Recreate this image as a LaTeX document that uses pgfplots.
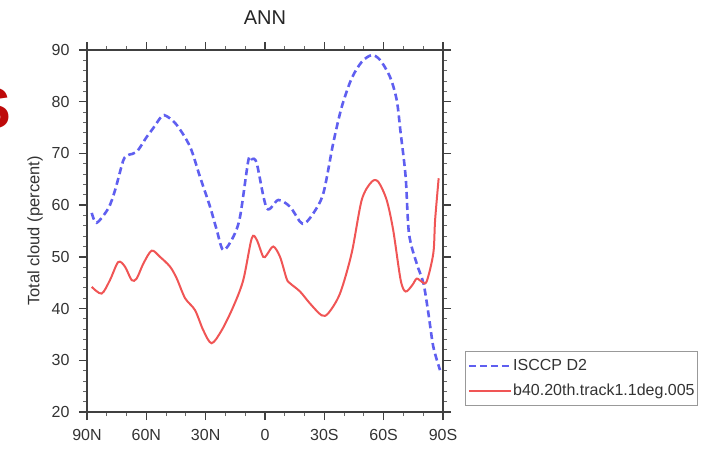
\documentclass[border=0pt]{standalone}
\usepackage{pgfplots}
\pgfplotsset{compat=1.18}
\usepackage{fontspec}
\setmainfont{Liberation Sans}
\definecolor{isccp}{RGB}{95,95,240}
\definecolor{model}{RGB}{240,85,85}
\definecolor{slidered}{RGB}{190,10,10}
\begin{document}
\begin{tikzpicture}[x=1pt,y=1pt]
\useasboundingbox (0,0) rectangle (709,461);
\node[anchor=east,font=\fontsize{58}{60}\bfseries\selectfont,text=slidered,inner sep=0pt] at (11,352) {S};
\node[font=\fontsize{20}{22}\selectfont, text=black!85] at (265,443) {ANN};
\begin{axis}[
  at={(87pt,49pt)}, anchor=south west,
  scale only axis, width=356pt, height=362pt,
  xmin=-90, xmax=90, ymin=20, ymax=90,
  xtick={-90,-60,-30,0,30,60,90},
  xticklabels={90N,60N,30N,0,30S,60S,90S},
  ytick={20,30,40,50,60,70,80,90},
  minor x tick num=2, minor y tick num=4,
  tick align=outside,
  major tick length=8pt, minor tick length=4pt,
  axis line style={black!75, line width=1.8pt},
  every tick/.style={black!75, line width=1.4pt},
  every minor tick/.style={black!60, line width=0.9pt},
  tick label style={font=\fontsize{16}{18}\selectfont, text=black!80},
  /pgf/number format/assume math mode=true,
  xticklabel style={yshift=-6pt},
  yticklabel style={xshift=-6pt},
  ylabel={Total cloud (percent)},
  ylabel style={font=\fontsize{16.5}{18}\selectfont, text=black!80, yshift=2pt},
  legend style={at={(1.062,0.0166)}, anchor=south west, draw=gray!80, line width=1pt,
    font=\fontsize{16}{18}\selectfont, text=black!80, inner xsep=2pt, inner ysep=6pt,
    row sep=8pt, nodes={inner xsep=1pt}},
  legend cell align=left,
  legend image code/.code={\draw[#1] (0pt,0pt) -- (42pt,0pt);},
]
\addplot[isccp, line width=2.6pt, dash pattern=on 7pt off 4pt, smooth, tension=0.5] coordinates {
(-87.6,58.5) (-85.1,56.6) (-79.2,59.4) (-75.8,62.9) (-71.6,68.7) (-69.1,69.7)
(-64.9,70.3) (-59.8,73.2) (-56.5,74.9) (-52.2,77.2) (-49.7,77.2) (-44.6,75.5)
(-37.9,71.3) (-32.9,65.5) (-27.8,59.7) (-24.4,55.2) (-21.1,51.3) (-16,53.9)
(-12.6,57.8) (-8.4,68.7) (-6.7,68.9) (-4.2,68.1) (0.9,59.4) (6.7,61.0)
(12.6,59.7) (17.7,56.8) (20.2,56.5) (24.4,58.4) (29.5,62.3) (34.5,72.0)
(38.8,79.0) (43.8,84.5) (48.9,87.7) (53.9,89.0) (58.1,88.1) (63.2,84.8)
(66.6,80.3) (68.6,73.9) (71.1,65.5) (72.8,54.5) (76.7,48.7) (80.1,44.9)
(82.6,39.1) (85.1,32.6) (88.5,28.1)
};
\addlegendentry{ISCCP D2}
\addplot[model, line width=2pt, smooth, tension=0.5] coordinates {
(-87.6,44.2) (-82.6,42.9) (-78.4,45.5) (-74.2,49.0) (-70.8,48.1) (-67.4,45.5)
(-64.9,45.8) (-61.5,48.7) (-57.3,51.2) (-53.1,50.0) (-48.0,48.1) (-44.6,45.8)
(-40.4,42.0) (-35.4,39.7) (-31.2,35.8) (-27.0,33.3) (-21.9,35.8) (-16.0,40.4)
(-11.0,45.5) (-6.7,53.6) (-4.2,53.3) (-0.9,50.0) (0.9,50.4) (4.2,52.0)
(7.6,50.0) (10.9,45.8) (12.6,44.9) (17.7,43.3) (22.7,41.0) (28.6,38.7)
(32.0,39.1) (37.9,42.9) (43.8,50.7) (48.9,61.0) (53.9,64.5) (57.3,64.5)
(61.5,61.0) (64.8,55.2) (68.6,45.5) (71.1,43.3) (74.4,44.5) (76.7,45.8)
(79.2,45.2) (81.7,45.2) (85.1,50.7) (86.0,57.1) (87.8,65.2)
};
\addlegendentry{b40.20th.track1.1deg.005}
\end{axis}
\end{tikzpicture}
\end{document}
